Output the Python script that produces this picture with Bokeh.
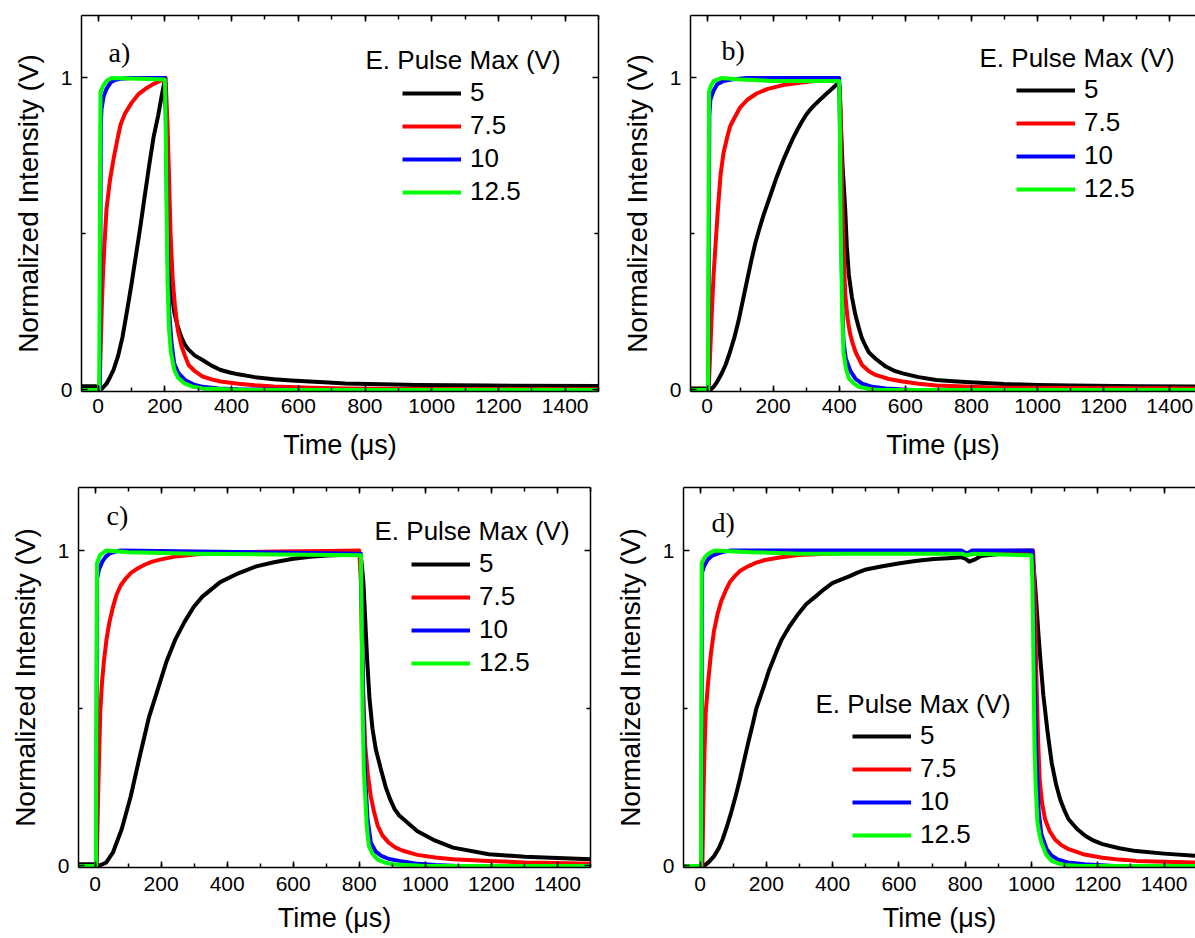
from bokeh.plotting import figure
from bokeh.models import (Range1d, LinearAxis, SingleIntervalTicker, FixedTicker,
                          Legend, LegendItem, Label)
from bokeh.layouts import row, column
from bokeh.embed import file_html
from bokeh.resources import INLINE

# ---------------- data ----------------
SERIES = ["5", "7.5", "10", "12.5"]
COLORS = ["#000000", "#ff0000", "#0000ff", "#00ff00"]
X_TICK_STEP = 200
Y_TICKS = [0, 1]
Y_MINOR = [0.5]

# panel a) pulse 200 us
A_T_5 = [-50, -10, 0, 10, 25, 35, 46, 60, 73, 86, 100, 113, 126, 138, 153, 166, 180, 190, 199,
         203, 206, 209, 213, 217, 222, 228, 238, 249, 260, 270, 290, 313, 340, 367, 395, 420, 470,
         527, 580, 634, 690, 741, 850, 955, 1169, 1500]
A_V_5 = [0.012, 0.012, 0.01, 0.003, 0.02, 0.04, 0.064, 0.11, 0.17, 0.25, 0.34, 0.43, 0.52, 0.61, 0.72, 0.81, 0.88, 0.94, 0.99,
         0.9, 0.75, 0.58, 0.45, 0.36, 0.30, 0.25, 0.205, 0.17, 0.145, 0.13, 0.11, 0.096, 0.078, 0.064, 0.056, 0.05, 0.041,
         0.034, 0.03, 0.027, 0.024, 0.021, 0.018, 0.016, 0.014, 0.013]
A_T_75 = [-50, 4, 8, 11, 14, 19, 25, 35, 46, 57, 67, 80, 100, 120, 142, 165, 185, 200, 202,
          204, 208, 212, 217, 223, 230, 239, 250, 260, 271, 290, 313, 340, 367, 420, 470, 527, 640, 741, 955, 1500]
A_V_75 = [0, 0, 0.15, 0.27, 0.36, 0.47, 0.58, 0.67, 0.74, 0.80, 0.85, 0.885, 0.92, 0.947, 0.965, 0.98, 0.99, 0.997, 1.0,
          0.95, 0.85, 0.70, 0.50, 0.36, 0.27, 0.19, 0.14, 0.11, 0.08, 0.06, 0.043, 0.034, 0.027, 0.02, 0.015, 0.011, 0.007, 0.005, 0.003, 0.002]
A_T_10 = [-50, 5, 8, 10, 16, 25, 37, 50, 67, 100, 201, 203, 206, 209, 213, 220, 228, 240, 260, 285, 313, 360, 420, 600, 1500]
A_V_10 = [0, 0, 0.85, 0.9, 0.94, 0.965, 0.985, 0.993, 0.997, 1.0, 1.0, 0.85, 0.6, 0.4, 0.25, 0.15, 0.085, 0.055, 0.032, 0.018, 0.01, 0.005, 0.002, 0, 0]
A_T_125 = [-50, 3, 7, 15, 25, 40, 200, 202, 205, 208, 212, 218, 228, 240, 260, 285, 313, 450, 1500]
A_V_125 = [0, 0, 0.955, 0.975, 0.99, 1.0, 0.995, 0.9, 0.6, 0.35, 0.2, 0.12, 0.064, 0.038, 0.02, 0.01, 0.005, 0, 0]

# panel b) pulse 400 us
B_T_5 = [-50, 0, 10, 20, 31, 43, 56, 69, 82, 95, 107, 120, 133, 146, 158, 171, 184, 197, 209, 222, 235, 248, 260,
         273, 286, 300, 311, 324, 337, 350, 362, 380, 398,
         401, 405, 410, 418, 423, 429, 438, 449, 459, 469, 480, 490, 510, 541, 565, 592, 640, 694, 745, 796, 898,
         1000, 1102, 1300, 1478]
B_V_5 = [0.005, 0.005, 0, 0.01, 0.027, 0.05, 0.08, 0.12, 0.165, 0.22, 0.28, 0.345, 0.41, 0.47, 0.515, 0.56, 0.60, 0.64, 0.677, 0.713, 0.747, 0.778, 0.806,
         0.833, 0.858, 0.882, 0.897, 0.912, 0.925, 0.938, 0.95, 0.967, 0.985,
         0.97, 0.85, 0.72, 0.58, 0.46, 0.37, 0.30, 0.24, 0.20, 0.165, 0.14, 0.12, 0.10, 0.075, 0.062, 0.053, 0.041, 0.032, 0.028, 0.025, 0.019,
         0.016, 0.014, 0.012, 0.011]
B_T_75 = [-50, 5, 10, 15, 20, 26, 33, 41, 50, 61, 70, 82, 100, 122, 150, 184, 230, 286, 340, 398,
          401, 404, 408, 412, 418, 425, 432, 439, 450, 469, 490, 510, 550, 592, 640, 694, 800, 898, 1100, 1478]
B_V_75 = [0, 0, 0.13, 0.26, 0.37, 0.47, 0.58, 0.69, 0.76, 0.81, 0.845, 0.87, 0.905, 0.93, 0.95, 0.965, 0.977, 0.985, 0.992, 0.997,
          0.97, 0.9, 0.69, 0.5, 0.31, 0.23, 0.185, 0.155, 0.12, 0.08, 0.06, 0.048, 0.035, 0.027, 0.02, 0.014, 0.01, 0.007, 0.006, 0.005]
B_T_10 = [-50, 4, 7, 10, 20, 31, 50, 82, 120, 400, 402, 406, 410, 413, 420, 434, 450, 469, 500, 541, 620, 1478]
B_V_10 = [0, 0, 0.88, 0.93, 0.96, 0.98, 0.99, 0.996, 1.0, 1.0, 0.85, 0.5, 0.25, 0.155, 0.1, 0.06, 0.035, 0.02, 0.01, 0.005, 0, 0]
B_T_125 = [-50, 3, 6, 12, 20, 45, 100, 200, 400, 402, 405, 409, 413, 420, 429, 445, 459, 490, 520, 1478]
B_V_125 = [0, 0, 0.955, 0.975, 0.99, 1.0, 0.995, 0.99, 0.99, 0.85, 0.5, 0.25, 0.12, 0.07, 0.037, 0.02, 0.01, 0.003, 0, 0]

# panel c) pulse 800 us
C_T_5 = [-50, 0, 11, 33, 54, 81, 108, 136, 163, 190, 217, 244, 271, 298, 325, 379, 434, 488, 542, 596, 650, 705, 802,
         806, 810, 813, 818, 824, 831, 840, 850, 867, 880, 894, 907, 921, 976, 1030, 1084, 1192, 1301, 1500]
C_V_5 = [0.005, 0.005, 0, 0.01, 0.042, 0.117, 0.22, 0.35, 0.47, 0.56, 0.65, 0.72, 0.774, 0.82, 0.854, 0.90, 0.928, 0.95, 0.963, 0.973, 0.98, 0.984, 0.988,
         0.97, 0.93, 0.89, 0.78, 0.65, 0.53, 0.435, 0.37, 0.30, 0.25, 0.21, 0.18, 0.16, 0.11, 0.08, 0.058, 0.037, 0.029, 0.021]
C_T_75 = [-50, 5, 10, 16, 21, 27, 35, 43, 54, 65, 78, 92, 110, 130, 150, 173, 200, 238, 280, 325, 400, 542, 700, 800,
          805, 808, 813, 818, 826, 835, 845, 856, 870, 889, 910, 932, 976, 1030, 1084, 1192, 1301, 1400, 1500]
C_V_75 = [0, 0, 0.25, 0.49, 0.58, 0.65, 0.72, 0.77, 0.82, 0.86, 0.89, 0.91, 0.93, 0.944, 0.955, 0.965, 0.972, 0.98, 0.985, 0.99, 0.993, 0.997, 0.999, 1.0,
          0.9, 0.7, 0.52, 0.38, 0.29, 0.22, 0.17, 0.127, 0.097, 0.074, 0.058, 0.048, 0.035, 0.027, 0.021, 0.016, 0.011, 0.009, 0.007]
C_T_10 = [-50, 4, 6, 12, 22, 32, 43, 60, 75, 805, 808, 812, 818, 825, 835, 850, 867, 890, 921, 970, 1030, 1100, 1500]
C_V_10 = [0, 0, 0.91, 0.94, 0.965, 0.98, 0.99, 0.996, 1.0, 0.99, 0.8, 0.5, 0.28, 0.15, 0.074, 0.045, 0.032, 0.022, 0.016, 0.008, 0.003, 0, 0]
C_T_125 = [-50, 3, 6, 15, 33, 100, 300, 805, 807, 810, 814, 818, 823, 829, 840, 856, 880, 900, 1000, 1500]
C_V_125 = [0, 0, 0.96, 0.985, 1.0, 0.995, 0.99, 0.985, 0.8, 0.5, 0.3, 0.22, 0.12, 0.064, 0.038, 0.02, 0.01, 0.005, 0, 0]

# panel d) pulse 1000 us
D_T_5 = [-50, 0, 12, 26, 43, 56, 68, 81, 94, 107, 119, 132, 145, 158, 170, 183, 196, 208, 221, 233, 246, 270, 297, 320,
         348, 375, 399, 425, 450, 475, 501, 550, 603, 650, 705, 750, 786, 800, 812, 830, 847, 908, 1000,
         1003, 1006, 1010, 1015, 1020, 1028, 1036, 1048, 1061, 1074, 1087, 1100, 1112, 1137, 1163, 1188, 1214, 1265, 1316, 1400, 1495]
D_V_5 = [0, 0, 0, 0.012, 0.032, 0.055, 0.084, 0.125, 0.17, 0.22, 0.27, 0.33, 0.39, 0.445, 0.50, 0.54, 0.58, 0.62, 0.654, 0.686, 0.717, 0.76, 0.80, 0.83,
         0.854, 0.878, 0.897, 0.908, 0.918, 0.93, 0.94, 0.95, 0.96, 0.967, 0.973, 0.976, 0.979, 0.975, 0.965, 0.972, 0.983, 0.99, 0.994,
         0.98, 0.95, 0.907, 0.83, 0.75, 0.64, 0.54, 0.43, 0.327, 0.26, 0.21, 0.175, 0.148, 0.118, 0.095, 0.08, 0.069, 0.056, 0.047, 0.039, 0.032]
D_T_75 = [-50, 7, 10, 13, 17, 24, 33, 42, 53, 64, 78, 90, 104, 120, 145, 170, 196, 240, 297, 380, 501, 650, 786, 801, 820, 837, 1005,
          1008, 1012, 1015, 1020, 1025, 1032, 1041, 1055, 1071, 1090, 1112, 1160, 1214, 1265, 1316, 1400, 1495]
D_V_75 = [0, 0, 0.2, 0.35, 0.485, 0.58, 0.675, 0.745, 0.80, 0.84, 0.875, 0.9, 0.918, 0.935, 0.95, 0.962, 0.97, 0.978, 0.986, 0.99, 0.994, 0.997, 0.999, 0.99, 0.995, 0.998, 1.0,
          0.93, 0.75, 0.59, 0.4, 0.27, 0.2, 0.148, 0.11, 0.084, 0.066, 0.053, 0.036, 0.026, 0.02, 0.016, 0.013, 0.011]
D_T_10 = [-50, 4, 6, 12, 22, 35, 53, 70, 94, 790, 805, 820, 1003, 1006, 1010, 1015, 1022, 1030, 1046, 1060, 1081, 1110, 1160, 1250, 1495]
D_V_10 = [0, 0, 0.93, 0.95, 0.97, 0.983, 0.99, 0.996, 1.0, 1.0, 0.99, 1.0, 1.0, 0.85, 0.6, 0.35, 0.17, 0.1, 0.053, 0.033, 0.02, 0.011, 0.005, 0, 0]
D_T_125 = [-50, 3, 5, 15, 25, 43, 150, 300, 790, 805, 825, 1000, 1003, 1006, 1009, 1012, 1018, 1024, 1030, 1045, 1061, 1080, 1100, 1150, 1495]
D_V_125 = [0, 0, 0.96, 0.98, 0.99, 1.0, 0.995, 0.99, 0.99, 0.985, 0.99, 0.985, 0.9, 0.65, 0.4, 0.27, 0.14, 0.1, 0.074, 0.035, 0.016, 0.008, 0.003, 0, 0]

PANEL_LABELS = ["a)", "b)", "c)", "d)"]
LEGEND_TITLE = "E. Pulse Max (V)"
X_LABEL = "Time (\u03bcs)"
Y_LABEL = "Normalized Intensity (V)"

SANS = "Liberation Sans"
SERIF = "Liberation Serif"


def style_axis(ax, labels=True, label_standoff=8, title_standoff=10, title_size="27px"):
    ax.axis_line_color = "black"
    ax.axis_line_width = 1.5
    ax.major_tick_line_width = 1.5
    ax.minor_tick_line_width = 1.5
    ax.major_tick_in = 6
    ax.major_tick_out = 0
    ax.minor_tick_in = 4
    ax.minor_tick_out = 0
    ax.major_label_text_font = SANS
    ax.axis_label_text_font = SANS
    ax.axis_label_text_font_size = title_size
    ax.axis_label_text_font_style = "normal"
    ax.axis_label_text_color = "black"
    ax.axis_label_standoff = title_standoff
    if labels:
        ax.major_label_text_font_size = "21px"
        ax.major_label_text_color = "black"
        ax.major_label_standoff = label_standoff
    else:
        ax.major_label_text_font_size = "0px"
        ax.major_label_text_color = None
        ax.major_label_standoff = 0


def make_panel(ts, vs, x_end, width, height, mb, panel_label, plabel_pos,
               leg_pos, title_pos, right_axis, x_label_standoffs):
    p = figure(width=width, height=height,
               x_range=Range1d(-50, x_end), y_range=Range1d(-0.005, 1.2),
               output_backend="svg", toolbar_location=None,
               x_axis_location=None, y_axis_location=None,
               min_border_left=mb[0], min_border_right=mb[1],
               min_border_top=mb[2], min_border_bottom=mb[3])
    p.outline_line_color = None
    p.grid.visible = False
    p.background_fill_color = "white"
    p.border_fill_color = "white"

    xt = SingleIntervalTicker(interval=X_TICK_STEP, num_minor_ticks=2)
    yt = FixedTicker(ticks=Y_TICKS, minor_ticks=Y_MINOR)

    xb = LinearAxis(ticker=xt, axis_label=X_LABEL)
    style_axis(xb, True, x_label_standoffs[0], x_label_standoffs[1], "27px")
    p.add_layout(xb, "below")
    xa = LinearAxis(ticker=xt)
    style_axis(xa, False)
    p.add_layout(xa, "above")
    yl = LinearAxis(ticker=yt, axis_label=Y_LABEL)
    style_axis(yl, True, 9, 14, "28px")
    p.add_layout(yl, "left")
    if right_axis:
        yr = LinearAxis(ticker=yt)
        style_axis(yr, False)
        p.add_layout(yr, "right")

    items = []
    for t, v, name, col in zip(ts, vs, SERIES, COLORS):
        r = p.line(t, v, line_color=col, line_width=4, line_join="round")
        items.append(LegendItem(label=name, renderers=[r]))

    leg = Legend(items=items, location=leg_pos, orientation="vertical",
                 glyph_width=59, glyph_height=26, label_height=26, spacing=2,
                 padding=0, margin=0, label_standoff=9,
                 label_text_font=SANS, label_text_font_size="26px",
                 label_text_color="black",
                 border_line_color=None, background_fill_alpha=0)
    p.add_layout(leg)

    p.add_layout(Label(x=title_pos[0], y=title_pos[1], x_units="screen", y_units="screen",
                       text=LEGEND_TITLE, text_font=SANS, text_font_size="26px",
                       text_color="black", text_baseline="middle"))
    p.add_layout(Label(x=plabel_pos[0], y=plabel_pos[1], x_units="screen", y_units="screen",
                       text=panel_label, text_font=SERIF, text_font_size="28px",
                       text_color="black", text_baseline="middle"))
    return p


pa = make_panel([A_T_5, A_T_75, A_T_10, A_T_125], [A_V_5, A_V_75, A_V_10, A_V_125],
                1500, 618, 470, (81, 20, 15, 79), PANEL_LABELS[0], (27, 339),
                (321, 184), (284, 332), True, (7, 14))
pb = make_panel([B_T_5, B_T_75, B_T_10, B_T_125], [B_V_5, B_V_75, B_V_10, B_V_125],
                1478, 577, 470, (66, 0, 15, 79), PANEL_LABELS[1], (31, 341),
                (326, 187), (289, 334), False, (7, 14))
pc = make_panel([C_T_5, C_T_75, C_T_10, C_T_125], [C_V_5, C_V_75, C_V_10, C_V_125],
                1500, 611, 468, (78, 21, 17, 71), PANEL_LABELS[2], (28, 352),
                (333, 189), (296, 337), True, (9, 9))
pd_ = make_panel([D_T_5, D_T_75, D_T_10, D_T_125], [D_V_5, D_V_75, D_V_10, D_V_125],
                 1495, 584, 468, (69, 0, 17, 71), PANEL_LABELS[3], (28, 345),
                 (169, 17), (132, 164), False, (9, 9))

layout = column(row(pa, pb), row(pc, pd_))
open("out.html", "w").write(file_html(layout, INLINE))
